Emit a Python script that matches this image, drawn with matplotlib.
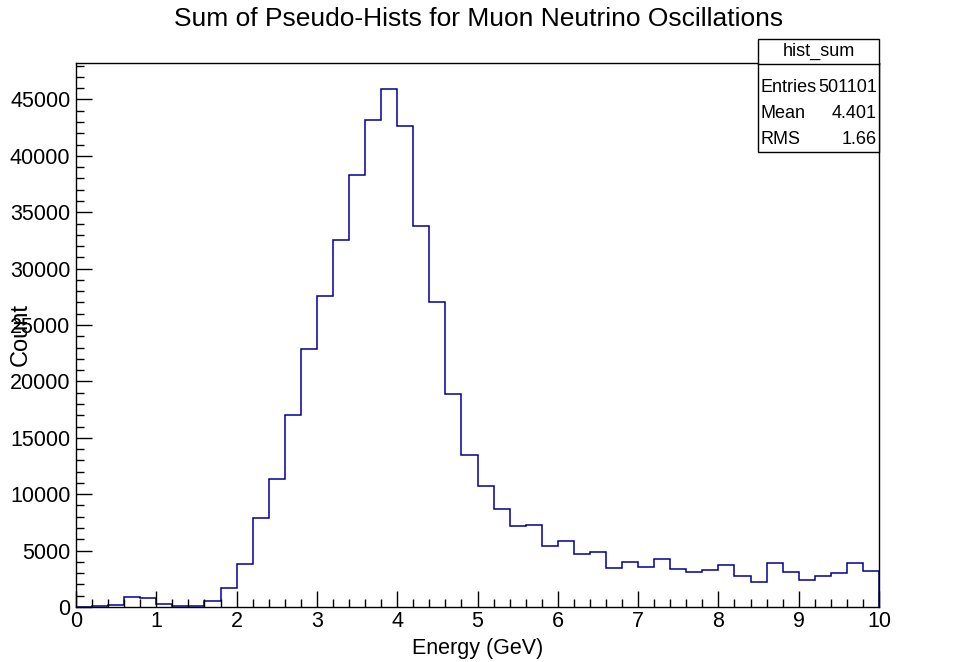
import matplotlib
matplotlib.use("Agg")
import matplotlib.pyplot as plt
import numpy as np
from matplotlib.ticker import MultipleLocator
from matplotlib.patches import Rectangle
from matplotlib.lines import Line2D

plt.rcParams['font.family'] = ['Liberation Sans', 'DejaVu Sans']

# Histogram data: 50 bins from 0 to 10 GeV
bin_edges = np.linspace(0, 10, 51)
counts = [0, 120, 200, 900, 770, 290, 60, 60, 500, 1660,
          3840, 7890, 11340, 17000, 22860, 27580, 32580, 38310, 43150, 45940,
          42680, 33780, 27040, 18840, 13460, 10700, 8650, 7205, 7290, 5430,
          5880, 4720, 4840, 3455, 3990, 3570, 4250, 3400, 3130, 3280,
          3690, 2720, 2240, 3900, 3100, 2390, 2720, 3040, 3870, 3160]

title = "Sum of Pseudo-Hists for Muon Neutrino Oscillations"
stats_name = "hist_sum"
stats_labels = ["Entries", "Mean", "RMS"]
stats_values = ["501101", "4.401", "1.66"]

W, H = 959, 662
fig = plt.figure(figsize=(W / 100, H / 100), dpi=100)
L, R, T, B = 76, 879, 63, 607
ax = fig.add_axes([L / W, 1 - B / H, (R - L) / W, (B - T) / H])

ax.stairs(counts, bin_edges, color='#000099', linewidth=1.1)
ax.set_xlim(0, 10)
ax.set_ylim(0, 48230)

ax.xaxis.set_major_locator(MultipleLocator(1))
ax.xaxis.set_minor_locator(MultipleLocator(0.2))
ax.yaxis.set_major_locator(MultipleLocator(5000))
ax.yaxis.set_minor_locator(MultipleLocator(1000))
ax.tick_params(which='both', direction='in', top=False, right=False,
               labelsize=15.5, width=1.0, color='black')
ax.tick_params(which='major', length=11.5)
ax.tick_params(which='minor', length=5.8)
ax.tick_params(axis='x', pad=3)
ax.tick_params(axis='y', pad=4)
for s in ax.spines.values():
    s.set_linewidth(1.0)

ax.set_xlabel("Energy (GeV)", fontsize=15.5, labelpad=4)
ax.set_ylabel("Count", fontsize=17)
ax.yaxis.set_label_coords(-(76 - 21) / (R - L), 0.5)
ax.yaxis.label.set_va('center')

fig.text(479 / W, 1 - 19 / H, title, fontsize=19, ha='center', va='center')

# Stats box
bx0, bx1, by0, by1, bsep = 758, 879, 39, 152, 64
fig.patches.append(Rectangle((bx0 / W, 1 - by1 / H), (bx1 - bx0) / W, (by1 - by0) / H,
                             transform=fig.transFigure, facecolor='white',
                             edgecolor='black', linewidth=1.0, zorder=5))
fig.lines.append(Line2D([bx0 / W, bx1 / W], [1 - bsep / H, 1 - bsep / H],
                        transform=fig.transFigure, color='black', linewidth=1.0, zorder=6))
fig.text((bx0 + bx1) / 2 / W, 1 - 51.5 / H, stats_name, fontsize=13,
         ha='center', va='center', zorder=7)
row_y = [88, 114, 139]
for lab, val, yy in zip(stats_labels, stats_values, row_y):
    fig.text(761 / W, 1 - yy / H, lab, fontsize=13, ha='left', va='center', zorder=7)
    fig.text(877 / W, 1 - yy / H, val, fontsize=13, ha='right', va='center', zorder=7)

fig.savefig("out.png", dpi=100)
